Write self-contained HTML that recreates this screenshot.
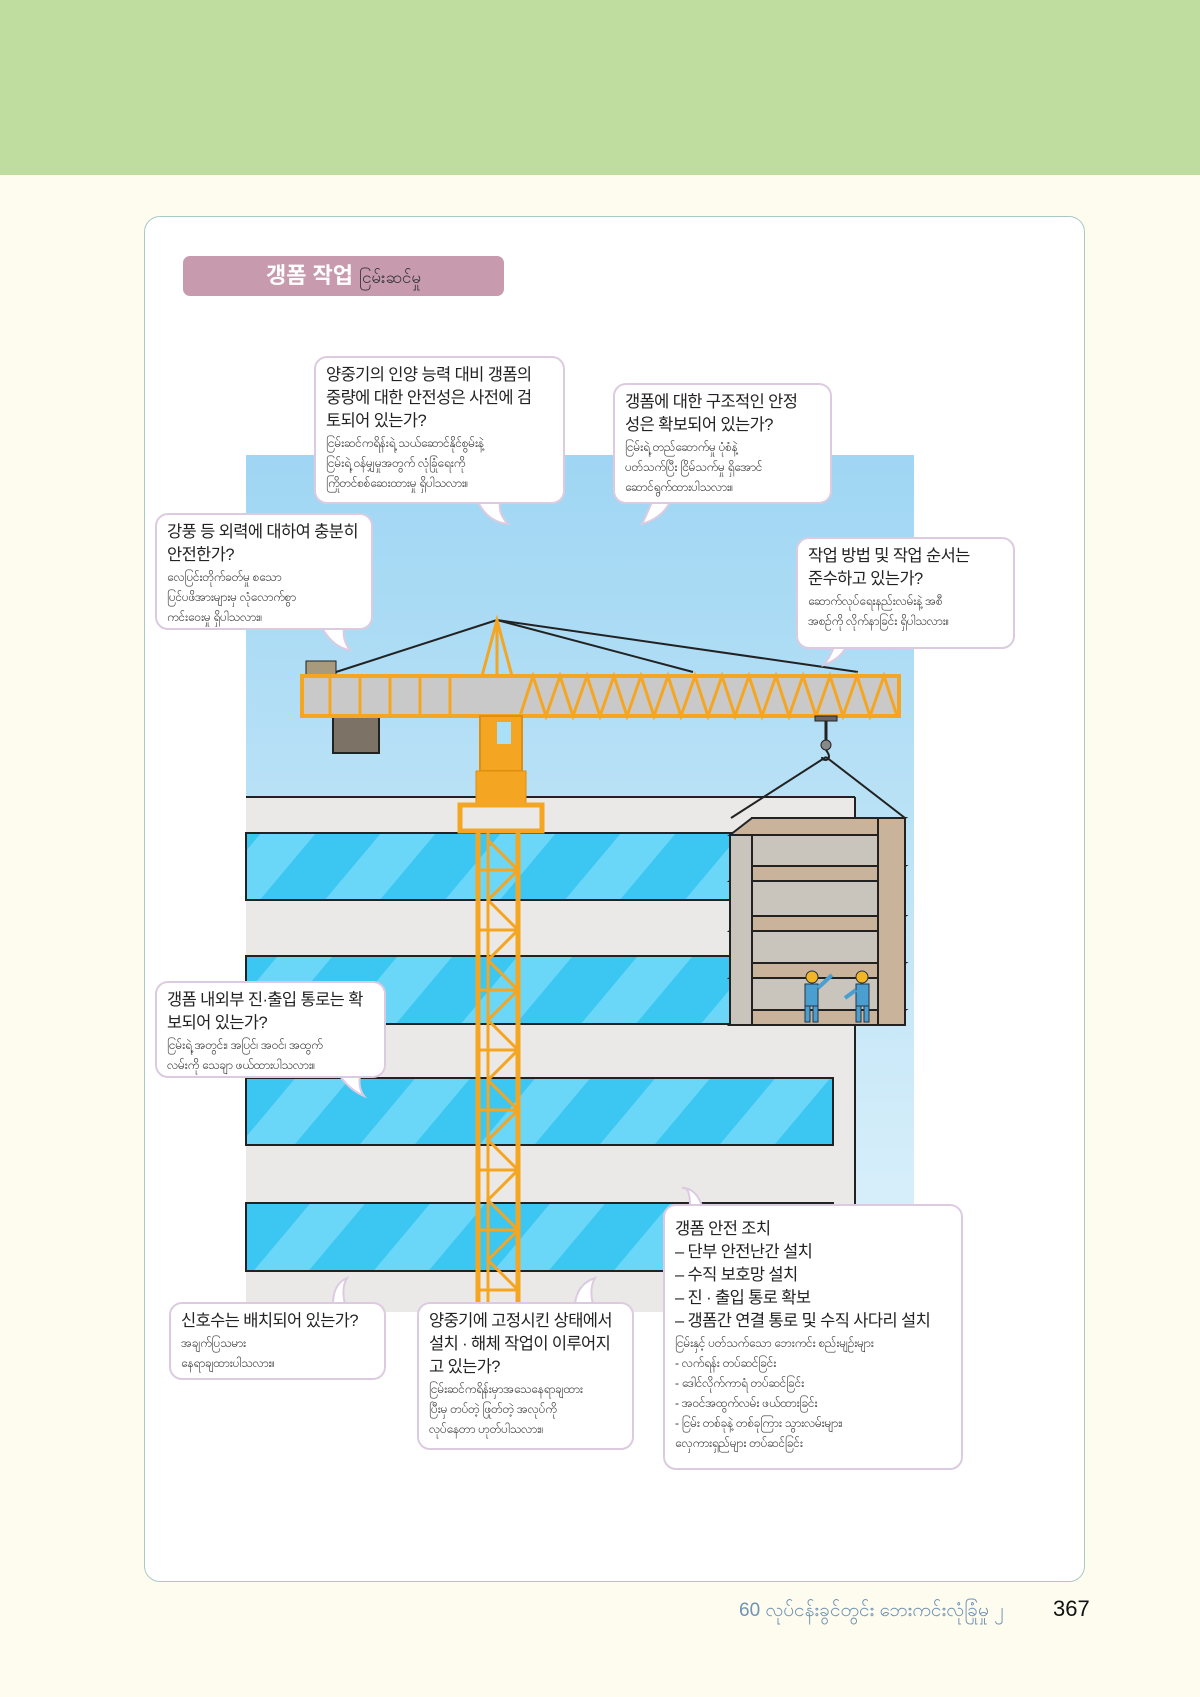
<!DOCTYPE html>
<html><head><meta charset="utf-8"><style>
*{margin:0;padding:0;box-sizing:border-box}
body{width:1200px;height:1697px;background:#fefcee;position:relative;overflow:hidden;font-family:"Liberation Sans","Noto Sans CJK KR",sans-serif}
.hdr{position:absolute;left:0;top:0;width:1200px;height:175px;background:#bfdd9f}
.box{position:absolute;left:144px;top:216px;width:941px;height:1366px;background:#fff;border:1.5px solid #a9c9c4;border-radius:16px}
.pill{position:absolute;left:183px;top:256px;width:321px;height:40px;background:#c79aae;border-radius:7px;color:#fff;font-weight:bold;font-size:22px;line-height:40px;text-align:center}
.pill span{color:#333;font-weight:normal;font-size:17px}
.b{position:absolute;background:#fff;border:2px solid #dccbe0;border-radius:13px;padding:6px 10px;color:#222;white-space:nowrap}
.k{font-size:16.5px;line-height:23px;letter-spacing:-0.6px}
.m{font-size:12px;line-height:20px;color:#333;letter-spacing:-0.3px}
.ft{position:absolute;top:1598px;left:739px;font-size:19px;color:#6e93b5}
.pg{position:absolute;top:1596px;left:1053px;font-size:22px;color:#111}
</style></head><body>
<div class="hdr"></div>
<div class="box"></div>
<div class="pill">갱폼 작업 <span>ငြမ်းဆင်မှု</span></div>
<svg width="1200" height="1697" style="position:absolute;left:0;top:0">
<defs>
<linearGradient id="sky" x1="0" y1="0" x2="0" y2="1"><stop offset="0" stop-color="#9fd6f3"/><stop offset="1" stop-color="#dff2fb"/></linearGradient>
<pattern id="gl" width="120" height="70" patternUnits="userSpaceOnUse" patternTransform="skewX(-40)"><rect width="120" height="70" fill="#3cc6f2"/><rect width="55" height="70" fill="#6ad6f8"/></pattern>
</defs>
<rect x="246" y="455" width="668" height="857" fill="url(#sky)"/>
<rect x="246" y="797" width="609" height="515" fill="#ebe9e7"/>
<line x1="855" y1="797" x2="855" y2="1312" stroke="#222" stroke-width="2"/>
<line x1="246" y1="797" x2="855" y2="797" stroke="#222" stroke-width="2"/>
<g stroke="#222" stroke-width="2">
<rect x="246" y="833" width="490" height="67" fill="url(#gl)"/>
<rect x="246" y="956" width="490" height="68" fill="url(#gl)"/>
<rect x="246" y="1078" width="587" height="67" fill="url(#gl)"/>
<rect x="246" y="1203" width="587" height="68" fill="url(#gl)"/>
</g>
<g stroke="#222" stroke-width="2" fill="none">
<line x1="497" y1="620" x2="336" y2="672"/><line x1="497" y1="620" x2="693" y2="672"/><line x1="497" y1="620" x2="858" y2="672"/>
<line x1="826" y1="757" x2="731" y2="818"/><line x1="826" y1="757" x2="905" y2="818"/>
</g>
<rect x="306" y="661" width="30" height="22" fill="#a89a7c" stroke="#222"/>
<rect x="333" y="707" width="46" height="46" fill="#7d7266" stroke="#222" stroke-width="2"/>
<rect x="302" y="676" width="597" height="40" fill="#c9c9c9" stroke="#f4a623" stroke-width="4"/>
<g stroke="#f4a623" stroke-width="3">
<line x1="330" y1="676" x2="330" y2="716"/><line x1="360" y1="676" x2="360" y2="716"/><line x1="390" y1="676" x2="390" y2="716"/><line x1="420" y1="676" x2="420" y2="716"/><line x1="450" y1="676" x2="450" y2="716"/>
<polyline fill="none" points="520,716 533,676 546,716 560,676 573,716 587,676 600,716 614,676 627,716 641,676 654,716 668,676 681,716 695,676 708,716 722,676 735,716 749,676 762,716 776,676 789,716 803,676 816,716 830,676 843,716 857,676 870,716 884,676 897,716"/>
<polygon fill="none" points="497,620 482,676 512,676"/>
<line x1="497" y1="620" x2="497" y2="676"/>
</g>
<rect x="815" y="716" width="22" height="5" fill="#666" stroke="#222"/>
<line x1="826" y1="721" x2="826" y2="740" stroke="#222" stroke-width="3"/>
<circle cx="826" cy="745" r="5" fill="#888" stroke="#222"/>
<path d="M826 750 q6 8 0 10 q-4 0 -4 -3" fill="none" stroke="#222" stroke-width="2"/>
<rect x="480" y="716" width="42" height="55" fill="#f4a623" stroke="#e08d10" stroke-width="2"/>
<rect x="497" y="722" width="14" height="22" fill="#a9dff7"/>
<rect x="476" y="771" width="50" height="34" fill="#f4a623" stroke="#e08d10"/>
<rect x="460" y="805" width="82" height="26" fill="none" stroke="#f4a623" stroke-width="5"/>
<rect x="478" y="831" width="40" height="481" fill="none" stroke="#f4a623" stroke-width="5"/>
<g stroke="#f4a623" stroke-width="3">
<line x1="488" y1="831" x2="488" y2="1312"/>
<polyline fill="none" points="488,840 518,870 488,900 518,930 488,960 518,990 488,1020 518,1050 488,1080 518,1110 488,1140 518,1170 488,1200 518,1230 488,1260 518,1290"/>
<line x1="478" y1="870" x2="518" y2="870"/><line x1="478" y1="930" x2="518" y2="930"/><line x1="478" y1="990" x2="518" y2="990"/><line x1="478" y1="1050" x2="518" y2="1050"/><line x1="478" y1="1110" x2="518" y2="1110"/><line x1="478" y1="1170" x2="518" y2="1170"/><line x1="478" y1="1230" x2="518" y2="1230"/><line x1="478" y1="1290" x2="518" y2="1290"/>
</g>
<g stroke="#222" stroke-width="2">
<rect x="752" y="818" width="153" height="207" fill="#c9c5bd"/>
<polygon points="730,835 752,818 905,818 880,835" fill="#c9b49b"/>
<polygon points="730,881 752,866 905,866 880,881" fill="#c9b49b"/>
<polygon points="730,931 752,916 905,916 880,931" fill="#c9b49b"/>
<polygon points="730,978 752,963 905,963 880,978" fill="#c9b49b"/>
<polygon points="730,1025 752,1010 905,1010 880,1025" fill="#c9b49b"/>
<rect x="878" y="818" width="27" height="207" fill="#c9b49b"/>
<rect x="730" y="835" width="22" height="190" fill="#c9c5bd"/>
</g>
<g fill="#4a9fd0" stroke="#234" stroke-width="1">
<circle cx="812" cy="977" r="6" fill="#f4b522"/><rect x="805" y="984" width="13" height="22"/><rect x="805" y="1006" width="5" height="16"/><rect x="813" y="1006" width="5" height="16"/><line x1="818" y1="988" x2="832" y2="975" stroke="#4a9fd0" stroke-width="4"/>
<circle cx="862" cy="977" r="6" fill="#f4b522"/><rect x="856" y="984" width="13" height="22"/><rect x="856" y="1006" width="5" height="16"/><rect x="864" y="1006" width="5" height="16"/><line x1="856" y1="990" x2="845" y2="998" stroke="#4a9fd0" stroke-width="4"/>
</g>
<g fill="#fff" stroke="#dccbe0" stroke-width="2">
<path d="M478 502 q10 20 30 22 q-10 -10 -8 -22"/>
<path d="M652 502 q-6 14 -10 22 q20 -6 28 -22"/>
<path d="M322 628 q12 20 28 22 q-8 -10 -6 -22"/>
<path d="M834 647 q-4 10 -10 18 q16 -6 22 -18"/>
<path d="M340 1076 q10 14 24 20 q-6 -8 -4 -20"/>
<path d="M333 1304 q0 -20 14 -26 q-6 10 -2 26"/>
<path d="M575 1304 q2 -20 20 -26 q-6 10 -2 26"/>
<path d="M690 1206 q0 -20 -8 -18 q14 0 20 18"/>
</g>
</svg>
<div class="b" style="left:314px;top:356px;width:251px;height:148px"><div class="k">양중기의 인양 능력 대비 갱폼의<br>중량에 대한 안전성은 사전에 검<br>토되어 있는가?</div><div class="m">ငြမ်းဆင်ကရိန်းရဲ့ သယ်ဆောင်နိုင်စွမ်းနဲ့<br>ငြမ်းရဲ့ ဝန်မျှမှုအတွက် လုံခြုံရေးကို<br>ကြိုတင်စစ်ဆေးထားမှု ရှိပါသလား။</div></div>
<div class="b" style="left:613px;top:383px;width:219px;height:121px"><div class="k">갱폼에 대한 구조적인 안정<br>성은 확보되어 있는가?</div><div class="m">ငြမ်းရဲ့ တည်ဆောက်မှု ပုံစံနဲ့<br>ပတ်သက်ပြီး ငြိမ်သက်မှု ရှိအောင်<br>ဆောင်ရွက်ထားပါသလား။</div></div>
<div class="b" style="left:155px;top:513px;width:218px;height:117px"><div class="k">강풍 등 외력에 대하여 충분히<br>안전한가?</div><div class="m">လေပြင်းတိုက်ခတ်မှု စသော<br>ပြင်ပဖိအားများမှ လုံလောက်စွာ<br>ကင်းဝေးမှု ရှိပါသလား။</div></div>
<div class="b" style="left:796px;top:537px;width:219px;height:112px"><div class="k">작업 방법 및 작업 순서는<br>준수하고 있는가?</div><div class="m">ဆောက်လုပ်ရေးနည်းလမ်းနဲ့ အစီ<br>အစဉ်ကို လိုက်နာခြင်း ရှိပါသလား။</div></div>
<div class="b" style="left:155px;top:981px;width:231px;height:97px"><div class="k">갱폼 내외부 진·출입 통로는 확<br>보되어 있는가?</div><div class="m">ငြမ်းရဲ့ အတွင်း၊ အပြင်၊ အဝင်၊ အထွက်<br>လမ်းကို သေချာ ဖယ်ထားပါသလား။</div></div>
<div class="b" style="left:169px;top:1302px;width:217px;height:78px"><div class="k">신호수는 배치되어 있는가?</div><div class="m">အချက်ပြသမား<br>နေရာချထားပါသလား။</div></div>
<div class="b" style="left:417px;top:1302px;width:217px;height:148px"><div class="k">양중기에 고정시킨 상태에서<br>설치 · 해체 작업이 이루어지<br>고 있는가?</div><div class="m">ငြမ်းဆင်ကရိန်းမှာအသေနေရာချထား<br>ပြီးမှ တပ်တဲ့ ဖြုတ်တဲ့ အလုပ်ကို<br>လုပ်နေတာ ဟုတ်ပါသလား။</div></div>
<div class="b" style="left:663px;top:1204px;width:300px;height:266px;padding-top:12px"><div class="k">갱폼 안전 조치<br>– 단부 안전난간 설치<br>– 수직 보호망 설치<br>– 진 · 출입 통로 확보<br>– 갱폼간 연결 통로 및 수직 사다리 설치</div><div class="m">ငြမ်းနှင့် ပတ်သက်သော ဘေးကင်း စည်းမျဉ်းများ<br>- လက်ရန်း တပ်ဆင်ခြင်း<br>- ဒေါင်လိုက်ကာရံ တပ်ဆင်ခြင်း<br>- အဝင်အထွက်လမ်း ဖယ်ထားခြင်း<br>- ငြမ်း တစ်ခုနဲ့ တစ်ခုကြား သွားလမ်းများ၊<br>လှေကားရှည်များ တပ်ဆင်ခြင်း</div></div>
<div class="ft">60 လုပ်ငန်းခွင်တွင်း ဘေးကင်းလုံခြုံမှု ၂</div>
<div class="pg">367</div>
</body></html>
